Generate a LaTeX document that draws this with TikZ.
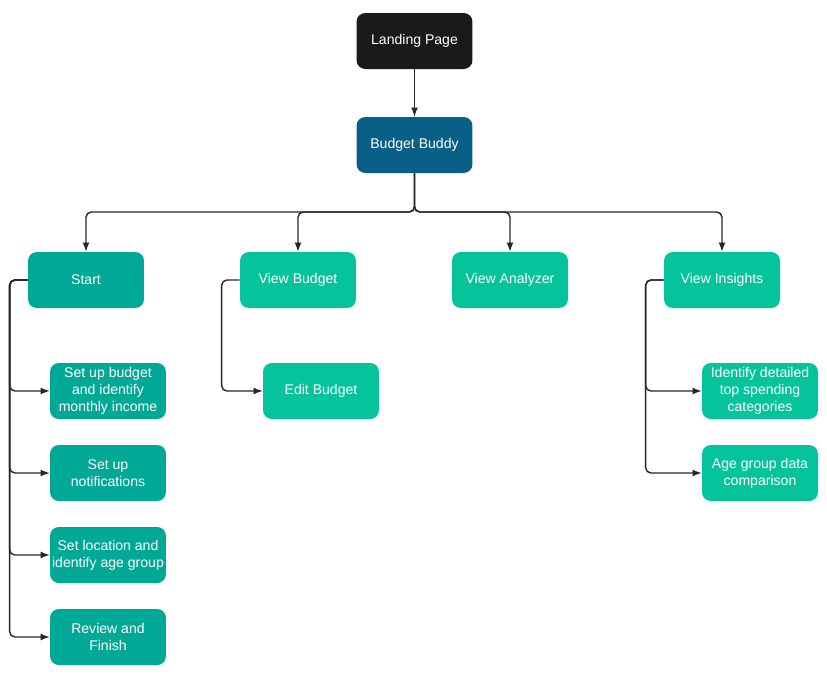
\documentclass[tikz,border=0pt]{standalone}
\usepackage{fontspec}
\setmainfont{Liberation Sans}
\usetikzlibrary{positioning}
\definecolor{landing}{HTML}{1A1A1A}
\definecolor{buddy}{HTML}{0A5F87}
\definecolor{darkteal}{HTML}{00A896}
\definecolor{lightteal}{HTML}{05C39B}
\tikzset{box/.style={
            draw=none,
            rounded corners=5pt,
            text=white,
            align=center,
            inner sep=0pt,
            minimum width=2.32cm,
            minimum height=1.12cm,
            font=\fontsize{8}{9.6}\selectfont
        },
        startbox/.style={box, fill=darkteal},
        pagebox/.style={box, fill=lightteal},
        link/.style={
            -latex,
            thick,
            draw=black!85
        }
    }
\begin{document}
\begin{tikzpicture}
        [x=0.02cm,y=-0.02cm]
        \useasboundingbox (0,0) rectangle (827,681);

        \node[box,fill=landing] (landing) at (414.5,41) {Landing Page};
        \node[box,fill=buddy] (buddy) at (414.5,145) {Budget Buddy};

        \node[startbox] (start) at (86,280) {Start};
        \node[pagebox] (viewbudget) at (298,280) {View Budget};
        \node[pagebox] (analyzer) at (510,280) {View Analyzer};
        \node[pagebox] (insights) at (722,280) {View Insights};

        \node[startbox] (income) at (108,391) {Set up budget\\and identify\\monthly income};
        \node[startbox] (notify) at (108,473) {Set up\\notifications};
        \node[startbox] (location) at (108,555) {Set location and\\identify age group};
        \node[startbox] (review) at (108,637) {Review and\\Finish};

        \node[pagebox] (edit) at (321,391) {Edit Budget};

        \node[pagebox] (spending) at (760,391) {Identify detailed\\top spending\\categories};
        \node[pagebox] (agegroup) at (760,473) {Age group data\\comparison};

        \coordinate (bus) at (414.5,212);
        \draw[link] (landing) -- (buddy);
        \foreach \n in {start,viewbudget,analyzer,insights}
            \draw[link,rounded corners=3pt] (buddy.south) -- (bus) -| (\n.north);

        % side branches
        \foreach \n in {income,notify,location,review}
            \draw[link,rounded corners=3pt] (start.west) -- ++(-18,0) |- (\n.west);
        \draw[link,rounded corners=3pt] (viewbudget.west) -- ++(-18,0) |- (edit.west);
        \foreach \n in {spending,agegroup}
            \draw[link,rounded corners=3pt] (insights.west) -- ++(-18,0) |- (\n.west);

    \end{tikzpicture}
\end{document}
